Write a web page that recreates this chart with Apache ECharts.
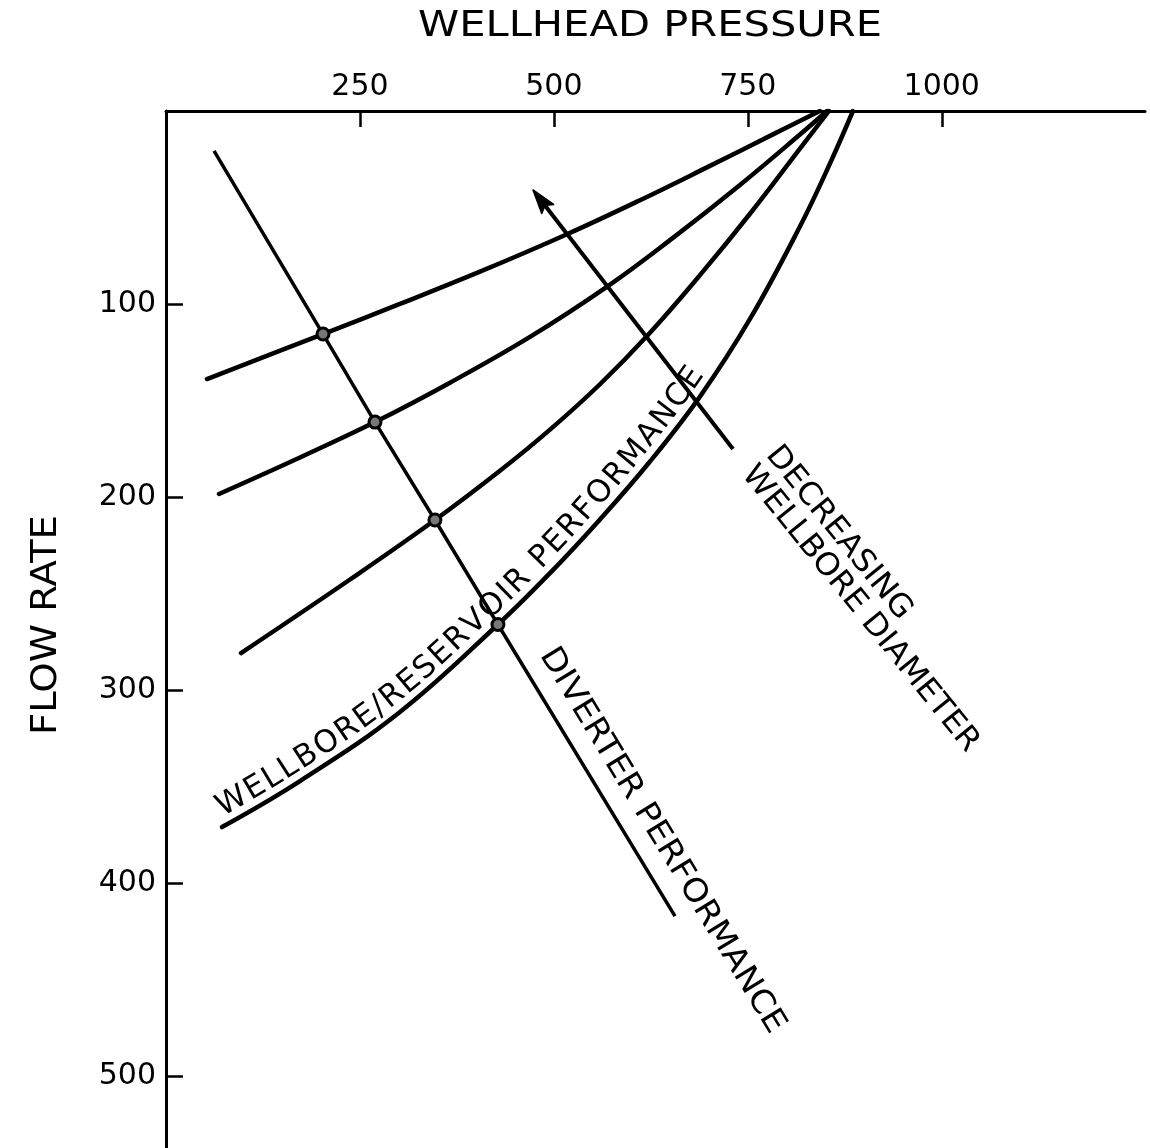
<!DOCTYPE html>
<html>
<head>
<meta charset="utf-8">
<title>Wellhead pressure vs flow rate</title>
<script src="https://cdn.jsdelivr.net/npm/echarts@6/dist/echarts.min.js"></script>
<style>
  html, body { margin: 0; padding: 0; background: #fff; }
  #chart { width: 1150px; height: 1148px; }
</style>
</head>
<body>
<div id="chart"></div>
<script>
// Axis ticks
const pressureTicks = [250, 500, 750, 1000];
const flowTicks = [100, 200, 300, 400, 500];

// Wellbore outflow curves, [wellhead pressure, flow rate]; boreCurve1 = smallest bore
const boreCurve1 = [[52.8, 138.8], [202.4, 115.5], [301.6, 99.9], [404.7, 83.2], [516.9, 63.8], [611.0, 46.2], [697.3, 29.2], [782.4, 12.1], [842.9, 0]];
const boreCurve2 = [[68.3, 198.3], [172.7, 179.4], [269.4, 161.1], [366.1, 140.7], [469.2, 117.0], [571.0, 90.3], [653.5, 65.7], [739.9, 38.3], [817.2, 12.2], [852.0, 0]];
const boreCurve3 = [[96.7, 280.7], [237.2, 242.6], [346.7, 211.8], [430.5, 186.3], [495.0, 165.0], [559.4, 141.5], [623.9, 114.8], [688.3, 85.0], [752.8, 53.2], [817.2, 19.5], [854.6, 0]];
const boreCurve4 = [[72.2, 370.8], [172.7, 347.0], [301.6, 311.2], [427.9, 265.9], [495.0, 239.3], [559.4, 211.5], [623.9, 181.5], [688.3, 147.9], [752.8, 107.7], [817.2, 59.8], [855.9, 27.2], [885.5, 0]];

// Diverter performance line and its operating points on each curve
const diverterEnds = [[61.9, 20.7], [656.1, 416.9]];
const operatingPoints = [[202.4, 115.5], [269.4, 161.1], [346.7, 211.8], [427.9, 265.9]];

// Arrow: tail then head
const diameterArrow = [730.9, 175.0, 473.1, 40.9];

// Annotation texts
const xTitle = 'WELLHEAD PRESSURE';
const yTitle = 'FLOW RATE';
const curveLabel = 'WELLBORE/RESERVOIR PERFORMANCE';
const diverterLabel = 'DIVERTER PERFORMANCE';
const diameterLabel = ['DECREASING', 'WELLBORE DIAMETER'];

const FONT = '"DejaVu Sans", "Liberation Sans", sans-serif';
const SMOOTH = 0.4;

const chart = echarts.init(document.getElementById('chart'), null, { renderer: 'canvas' });

function curveSeries(name, data) {
  return {
    name, type: 'line', data, smooth: SMOOTH, symbol: 'none', showSymbol: false,
    silent: true, z: 3,
    lineStyle: { color: '#000', width: 4.5, cap: 'round' }
  };
}

const plainNumber = v => String(v);

const option = {
  animation: false,
  backgroundColor: '#fff',
  grid: { left: 166, top: 111, right: 5, bottom: 0, containLabel: false, outerBoundsMode: 'none' },
  xAxis: {
    type: 'value', position: 'top', min: 0, max: 1262,
    axisLine: { show: true, onZero: false, lineStyle: { color: '#000', width: 3 } },
    axisTick: { show: true, inside: true, length: 16, customValues: pressureTicks, lineStyle: { color: '#000', width: 2.5 } },
    axisLabel: { show: true, customValues: pressureTicks, formatter: plainNumber, margin: 9, color: '#000', fontSize: 30, fontFamily: FONT },
    splitLine: { show: false }
  },
  yAxis: {
    type: 'value', inverse: true, min: 0, max: 537,
    axisLine: { show: true, onZero: false, lineStyle: { color: '#000', width: 3 } },
    axisTick: { show: true, inside: true, length: 17, customValues: flowTicks, lineStyle: { color: '#000', width: 2.5 } },
    axisLabel: { show: true, customValues: flowTicks, formatter: plainNumber, margin: 10, color: '#000', fontSize: 30, fontFamily: FONT },
    splitLine: { show: false }
  },
  series: [
    curveSeries('bore 1', boreCurve1),
    curveSeries('bore 2', boreCurve2),
    curveSeries('bore 3', boreCurve3),
    curveSeries('bore 4', boreCurve4),
    {
      name: 'diverter', type: 'line', silent: true, z: 4,
      data: [diverterEnds[0], ...operatingPoints, diverterEnds[1]],
      symbol: 'none', showSymbol: false,
      lineStyle: { color: '#000', width: 3.5 }
    },
    {
      name: 'operating points', type: 'scatter', silent: true, z: 6,
      data: operatingPoints, symbol: 'circle', symbolSize: 12,
      itemStyle: { color: '#777', borderColor: '#000', borderWidth: 3, opacity: 1 }
    },
    {
      name: 'diameter arrow', type: 'custom', coordinateSystem: 'cartesian2d', silent: true, z: 5,
      data: [diameterArrow],
      encode: { x: [0, 2], y: [1, 3] },
      renderItem(params, api) {
        const a = api.coord([api.value(0), api.value(1)]);
        const b = api.coord([api.value(2), api.value(3)]);
        const dx = b[0] - a[0], dy = b[1] - a[1];
        const len = Math.hypot(dx, dy);
        const ux = dx / len, uy = dy / len;
        const nx = -uy, ny = ux;
        const headLen = 24, half = 7.5;
        const bx = b[0] - ux * headLen, by = b[1] - uy * headLen;
        const notch = [b[0] - ux * headLen * 0.82, b[1] - uy * headLen * 0.82];
        return {
          type: 'group',
          children: [
            { type: 'line', shape: { x1: a[0], y1: a[1], x2: notch[0], y2: notch[1] },
              style: { stroke: '#000', lineWidth: 4 } },
            { type: 'polygon',
              shape: { points: [b, [bx + nx * half, by + ny * half], notch, [bx - nx * half, by - ny * half]] },
              style: { fill: '#000', stroke: '#000', lineWidth: 1.5, lineJoin: 'round' } }
          ]
        };
      }
    }
  ]
};

chart.setOption(option);

// ---- annotation layout helpers ----
const measureCtx = document.createElement('canvas').getContext('2d');
function measure(text, font) { measureCtx.font = font; return measureCtx.measureText(text).width; }

const toPx = p => chart.convertToPixel({ gridIndex: 0 }, p);

// Dense polyline following the same bezier smoothing the line series uses
function smoothPolyline(pts, smooth, steps) {
  const n = pts.length;
  const cps = pts.map((cur, i) => {
    if (i === 0 || i === n - 1) return [cur, cur];
    const prev = pts[i - 1], next = pts[i + 1];
    const vx = (next[0] - prev[0]) * smooth, vy = (next[1] - prev[1]) * smooth;
    const d0 = Math.hypot(cur[0] - prev[0], cur[1] - prev[1]);
    const d1 = Math.hypot(next[0] - cur[0], next[1] - cur[1]);
    const r1 = d1 / (d0 + d1), r0 = 1 - r1;
    return [[cur[0] - vx * r0, cur[1] - vy * r0], [cur[0] + vx * r1, cur[1] + vy * r1]];
  });
  const out = [pts[0]];
  for (let i = 0; i < n - 1; i++) {
    const p0 = pts[i], c1 = cps[i][1], c2 = cps[i + 1][0], p3 = pts[i + 1];
    for (let k = 1; k <= steps; k++) {
      const t = k / steps, u = 1 - t;
      out.push([
        u * u * u * p0[0] + 3 * u * u * t * c1[0] + 3 * u * t * t * c2[0] + t * t * t * p3[0],
        u * u * u * p0[1] + 3 * u * u * t * c1[1] + 3 * u * t * t * c2[1] + t * t * t * p3[1]
      ]);
    }
  }
  return out;
}

function makeArc(poly) {
  const cum = [0];
  for (let i = 1; i < poly.length; i++) {
    cum.push(cum[i - 1] + Math.hypot(poly[i][0] - poly[i - 1][0], poly[i][1] - poly[i - 1][1]));
  }
  const total = cum[cum.length - 1];
  function at(s) {
    let i = 1;
    if (s >= total) i = poly.length - 1;
    else if (s > 0) { while (cum[i] < s) i++; }
    const a = poly[i - 1], b = poly[i];
    const t = (s - cum[i - 1]) / ((cum[i] - cum[i - 1]) || 1e-6);
    return [a[0] + (b[0] - a[0]) * t, a[1] + (b[1] - a[1]) * t];
  }
  function arcAtX(x) {
    for (let i = 1; i < poly.length; i++) if (poly[i][0] >= x) return cum[i];
    return total;
  }
  return { total, at, arcAtX };
}

function angleAt(arc, s) {
  const a = arc.at(s - 6), b = arc.at(s + 6);
  return Math.atan2(b[1] - a[1], b[0] - a[0]);
}

function textStyle(text, font, align) {
  return { text, font, fill: '#000', align: align || 'center', verticalAlign: 'middle',
           textAlign: align || 'center', textVerticalAlign: 'middle' };
}

// Letters placed one by one along a path, evenly spread between s0 and s1
function textAlongPath(arc, text, font, s0, s1, offset) {
  const chars = [...text];
  const widths = chars.map(ch => measure(ch, font));
  const sum = widths.reduce((a, b) => a + b, 0);
  const gap = (s1 - s0 - sum) / (chars.length - 1);
  const els = [];
  let s = s0;
  chars.forEach((ch, i) => {
    const mid = s + widths[i] / 2;
    s += widths[i] + gap;
    if (ch === ' ') return;
    const p = arc.at(mid), ang = angleAt(arc, mid);
    els.push({
      type: 'text', silent: true, z: 10,
      x: p[0] + Math.sin(ang) * offset, y: p[1] - Math.cos(ang) * offset,
      rotation: -ang,
      style: textStyle(ch, font)
    });
  });
  return els;
}

function buildAnnotations() {
  const els = [];

  // Axis titles
  const titleFont = `36px ${FONT}`;
  els.push({ type: 'text', silent: true, x: 650, y: 27, scaleX: 464 / measure(xTitle, titleFont),
             style: textStyle(xTitle, titleFont) });
  els.push({ type: 'text', silent: true, x: 47, y: 625, rotation: Math.PI / 2,
             scaleX: 220 / measure(yTitle, titleFont), style: textStyle(yTitle, titleFont) });

  // Label running along the largest-bore curve
  const curvePx = boreCurve4.map(toPx);
  const curveArc = makeArc(smoothPolyline(curvePx, SMOOTH, 30));
  const labelFont = `31px ${FONT}`;
  const endS = curveArc.arcAtX(toPx([703, 0])[0]);
  els.push(...textAlongPath(curveArc, curveLabel, labelFont, 6, endS, 17));

  // Diverter label, parallel to the diverter line
  const dA = toPx(operatingPoints[3]), dB = toPx(diverterEnds[1]);
  const dLen = Math.hypot(dB[0] - dA[0], dB[1] - dA[1]);
  const dux = (dB[0] - dA[0]) / dLen, duy = (dB[1] - dA[1]) / dLen;
  const dAng = Math.atan2(duy, dux);
  const dFont = `32px ${FONT}`;
  const dCenter = 270, dOffset = 28;
  els.push({
    type: 'text', silent: true, z: 10,
    x: dA[0] + dux * dCenter + Math.sin(dAng) * dOffset,
    y: dA[1] + duy * dCenter - Math.cos(dAng) * dOffset,
    rotation: -dAng, scaleX: 445 / measure(diverterLabel, dFont),
    style: textStyle(diverterLabel, dFont)
  });

  // Two-line label beyond the arrow tail
  const mFont = `31px ${FONT}`;
  const mAnchor = toPx([764.9, 180.6]);
  els.push({
    type: 'text', silent: true, z: 10,
    x: mAnchor[0], y: mAnchor[1], rotation: -51 * Math.PI / 180, scaleX: 1.05,
    style: Object.assign(textStyle(diameterLabel.join('\n'), mFont, 'left'), { lineHeight: 31 })
  });

  return els;
}

chart.setOption({ graphic: { elements: buildAnnotations() } });
</script>
</body>
</html>
